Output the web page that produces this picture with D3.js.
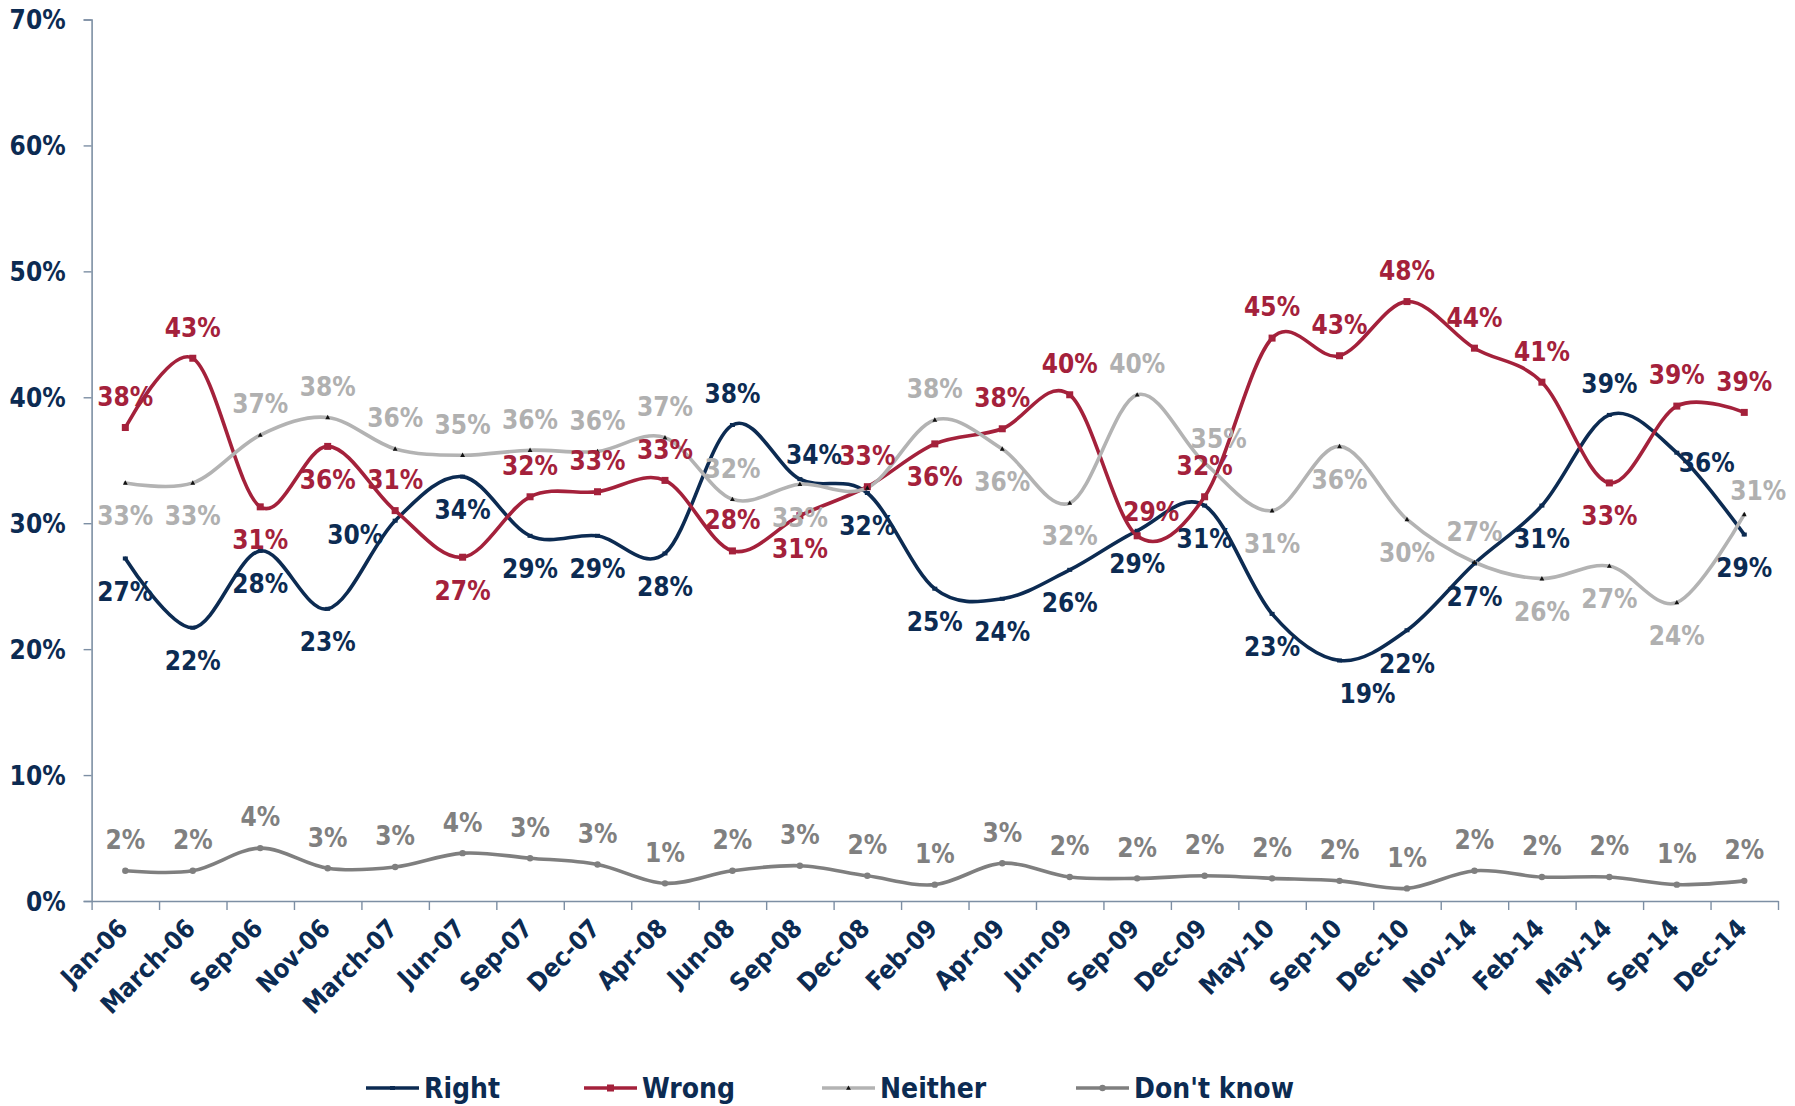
<!DOCTYPE html>
<html><head><meta charset="utf-8">
<script src="https://cdn.jsdelivr.net/npm/d3@7"></script>
<style>
html,body{margin:0;padding:0;background:#fff;}
text{font-family:"DejaVu Sans Condensed","DejaVu Sans",sans-serif;font-weight:bold;font-stretch:condensed;}
</style></head>
<body>
<svg id="chart" width="1795" height="1106"></svg>
<script>
const categories = ["Jan-06","March-06","Sep-06","Nov-06","March-07","Jun-07","Sep-07","Dec-07","Apr-08","Jun-08","Sep-08","Dec-08","Feb-09","Apr-09","Jun-09","Sep-09","Dec-09","May-10","Sep-10","Dec-10","Nov-14","Feb-14","May-14","Sep-14","Dec-14"];
const seriesNames = ["Right","Wrong","Neither","Don't know"];
const rightValues   = [27.2,21.7,27.8,23.2,30.2,33.7,29.0,29.0,27.6,37.8,33.5,32.4,24.8,24.0,26.3,29.4,31.4,22.8,19.1,21.5,26.8,31.4,38.6,35.6,29.1];
const wrongValues   = [37.6,43.1,31.3,36.1,31.0,27.3,32.1,32.5,33.4,27.8,30.6,32.9,36.3,37.5,40.2,29.0,32.1,44.7,43.3,47.6,43.9,41.2,33.2,39.3,38.8];
const neitherValues = [33.2,33.2,37.0,38.4,35.9,35.4,35.8,35.7,36.8,31.9,33.1,32.8,38.2,35.9,31.6,40.2,34.8,31.0,36.1,30.3,26.9,25.6,26.6,23.7,30.7];
const dkValues      = [2.4,2.4,4.2,2.6,2.7,3.8,3.4,2.9,1.4,2.4,2.8,2.0,1.3,3.0,1.9,1.8,2.0,1.8,1.6,1.0,2.4,1.9,1.9,1.3,1.6];
const yTicks = [0,10,20,30,40,50,60,70];

// label placement codes (a=above, b=below, l=left, r=right, ar/br=diagonal, n=none)
const rightLabelPos   = ["b","b","b","b","l","b","b","b","b","a","ar","b","b","b","b","b","b","b","br","b","b","b","a","r","b"];
const wrongLabelPos   = ["a","a","b","b","a","b","a","a","a","a","b","a","b","a","a","ar","a","a","a","a","a","a","b","a","a"];
const neitherLabelPos = ["b","b","a","a","a","a","a","a","a","a","b","n","a","b","b","a","ar","b","b","b","a","b","b","b","ar"];
const dkLabelPos      = categories.map(() => "a");

(function () {
const colors = {"Right":"#0c2b52","Wrong":"#a4213b","Neither":"#b3b3b3","Don't know":"#7f7f7f"};
const labelColors = {"Right":"#0c2b52","Wrong":"#a4213b","Neither":"#b0b0b0","Don't know":"#808080"};
const navy = "#0c2b52", axisColor = "#7d8fa4";

const series = [
  {name:"Right", values:rightValues, pos:rightLabelPos},
  {name:"Wrong", values:wrongValues, pos:wrongLabelPos},
  {name:"Neither", values:neitherValues, pos:neitherLabelPos},
  {name:"Don't know", values:dkValues, pos:dkLabelPos}
];

const mLeft = 91.6, mRight = 1778, mTop = 19.5, mBottom = 901;
const svg = d3.select("#chart");
const x = d3.scaleBand().domain(categories).range([mLeft, mRight]).padding(0);
const xb = d3.scaleLinear().domain([0, categories.length]).range([mLeft, mRight]);
const y = d3.scaleLinear().domain([0, 70]).range([mBottom, mTop]);
const cx = c => x(c) + x.bandwidth()/2;

// Y axis
const yAxis = svg.append("g").attr("transform", `translate(${mLeft},0)`)
  .call(d3.axisLeft(y).tickValues(yTicks).tickFormat(d => d + "%").tickSize(8).tickPadding(18));
yAxis.select(".domain").attr("stroke", axisColor).attr("stroke-width", 1.6);
yAxis.selectAll(".tick line").attr("stroke", axisColor).attr("stroke-width", 1.4);
yAxis.selectAll(".tick text").attr("fill", navy).attr("font-size", 26).attr("dy", "0.36em");

// X axis
const xAxis = svg.append("g").attr("transform", `translate(0,${mBottom})`)
  .call(d3.axisBottom(xb).tickValues(d3.range(categories.length + 1)).tickFormat("").tickSize(9).tickSizeOuter(0));
xAxis.select(".domain").attr("stroke", axisColor).attr("stroke-width", 1.6);
xAxis.selectAll(".tick line").attr("stroke", axisColor).attr("stroke-width", 1.4);

svg.append("g").selectAll("text").data(categories).join("text")
  .attr("transform", d => `translate(${cx(d) + 4},${mBottom + 29}) rotate(-45)`)
  .attr("text-anchor", "end")
  .attr("fill", navy).attr("font-size", 25.5)
  .text(d => d);

// Lines
const line = d3.line().x((d, i) => cx(categories[i])).y(d => y(d)).curve(d3.curveCardinal.tension(0));
const lineG = svg.append("g");
series.forEach(s => {
  lineG.append("path").datum(s.values)
    .attr("d", line).attr("fill", "none")
    .attr("stroke", colors[s.name]).attr("stroke-width", 3.6)
    .attr("stroke-linejoin", "round").attr("stroke-linecap", "round");
});

// Markers
function marker(g, name, px, py, scale) {
  const k = scale || 1;
  if (name === "Right") {
    g.append("rect").attr("x", px - 2.5*k).attr("y", py - 2*k).attr("width", 5*k).attr("height", 4*k).attr("fill", colors[name]);
  } else if (name === "Wrong") {
    g.append("rect").attr("x", px - 3.5*k).attr("y", py - 3.5*k).attr("width", 7*k).attr("height", 7*k).attr("fill", colors[name]);
  } else if (name === "Neither") {
    g.append("path").attr("d", `M${px},${py-2.6*k}L${px+2.4*k},${py+1.8*k}L${px-2.4*k},${py+1.8*k}Z`).attr("fill", "#111");
  } else {
    g.append("circle").attr("cx", px).attr("cy", py).attr("r", 3.2*k).attr("fill", colors[name]);
  }
}
const markG = svg.append("g");
series.forEach(s => {
  s.values.forEach((v, i) => marker(markG, s.name, cx(categories[i]), y(v)));
});

// Data labels
const offsets = {a:[0,-31], b:[0,33], l:[-40,14], r:[30,10], ar:[14,-24], br:[28,33], n:null};
const labG = svg.append("g");
series.forEach(s => {
  s.values.forEach((v, i) => {
    const o = offsets[s.pos[i]];
    if (!o) return;
    labG.append("text")
      .attr("x", cx(categories[i]) + o[0])
      .attr("y", y(v) + o[1])
      .attr("dy", "0.36em")
      .attr("text-anchor", "middle")
      .attr("fill", labelColors[s.name])
      .attr("font-size", 26)
      .text(Math.round(v) + "%");
  });
});

// Legend
const legendX = [366, 584, 822, 1076];
const legendY = 1088;
const lg = svg.append("g");
seriesNames.forEach((n, i) => {
  lg.append("line").attr("x1", legendX[i]).attr("x2", legendX[i] + 53)
    .attr("y1", legendY).attr("y2", legendY)
    .attr("stroke", colors[n]).attr("stroke-width", 3.6);
  marker(lg, n, legendX[i] + 26.5, legendY, 1);
  lg.append("text").attr("x", legendX[i] + 58).attr("y", legendY).attr("dy", "0.36em")
    .attr("fill", navy).attr("font-size", 28).text(n);
});
})();
</script>
</body></html>
